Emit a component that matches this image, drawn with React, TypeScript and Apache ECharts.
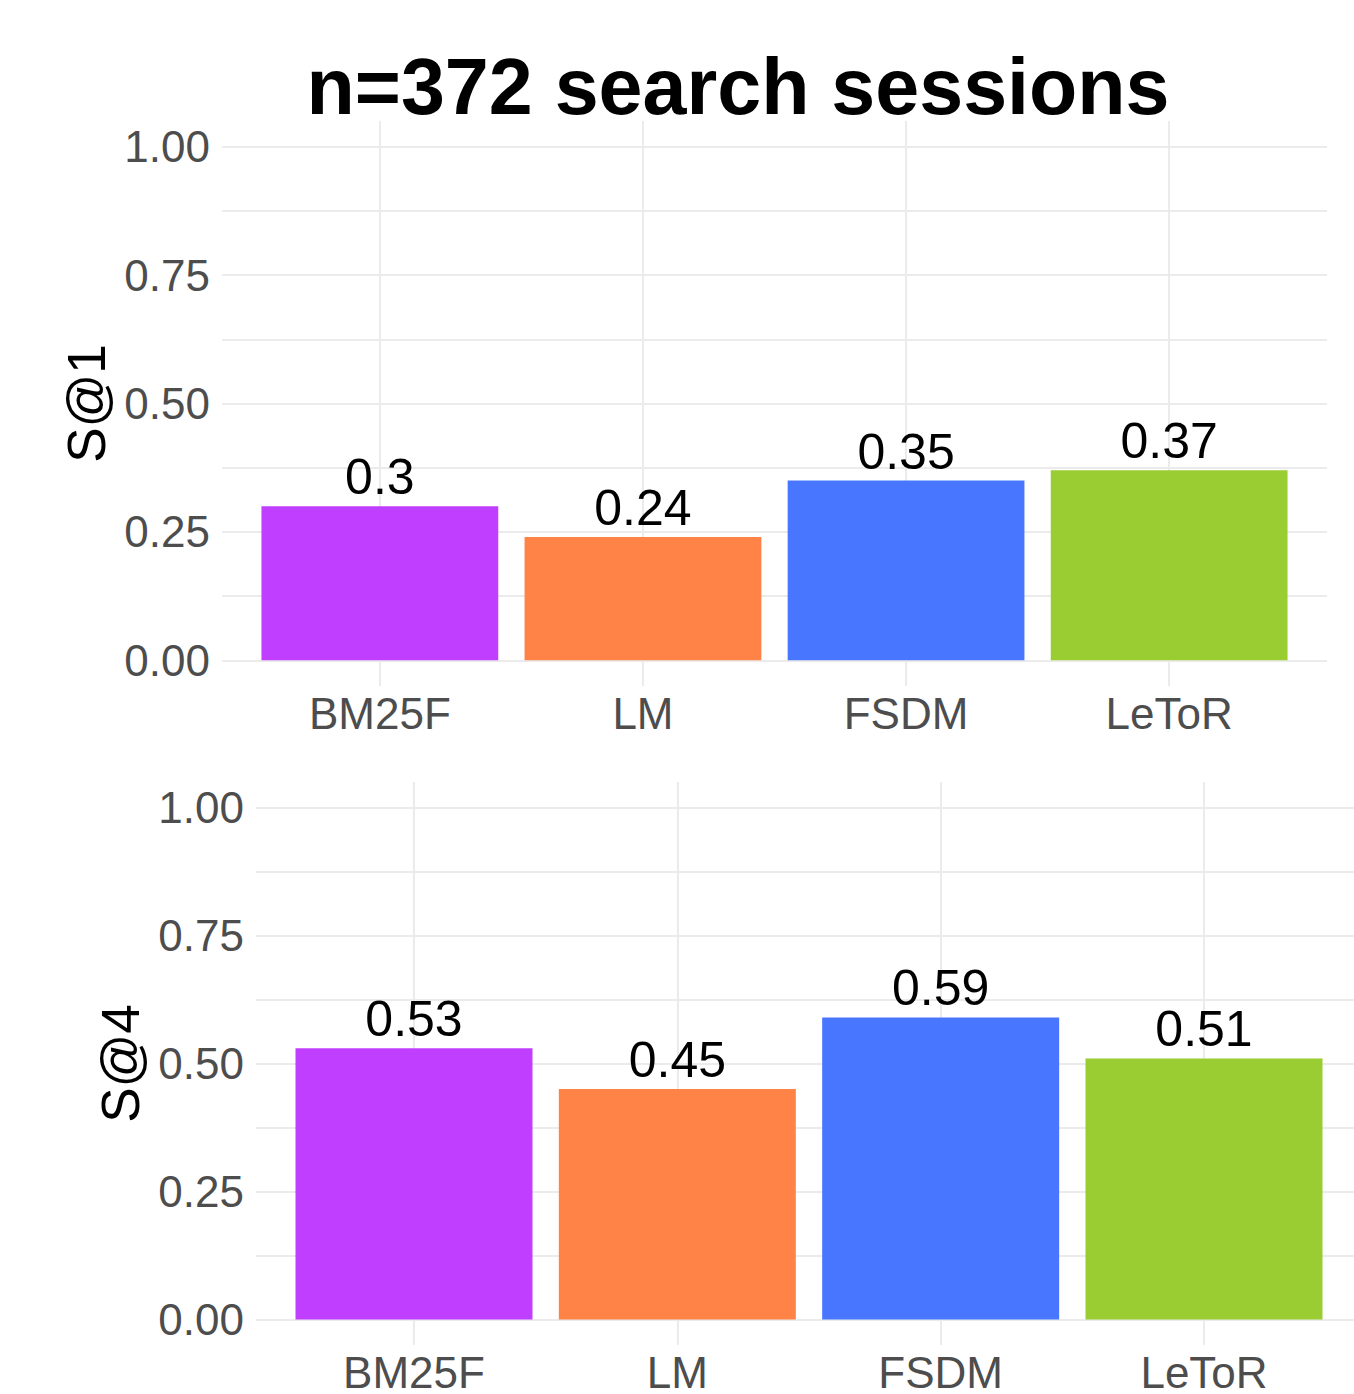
import React, { useEffect, useRef } from "react";
import * as echarts from "echarts";

const categories = ["BM25F", "LM", "FSDM", "LeToR"];
const s1Values = [0.3, 0.24, 0.35, 0.37];
const s4Values = [0.53, 0.45, 0.59, 0.51];
const barColors = ["#BF3EFF", "#FF8247", "#4876FF", "#9ACD32"];
const yTickLabels = [0, 0.25, 0.5, 0.75, 1];
const yGridValues = [0, 0.125, 0.25, 0.375, 0.5, 0.625, 0.75, 0.875, 1];
const xPositions = [1, 2, 3, 4];
const titleText = "n=372 search sessions";
const panelNames = ["S@1", "S@4"];

const FONT = "'Liberation Sans', Arial, Helvetica, sans-serif";
const GRID_COLOR = "#EBEBEB";
const TICK_COLOR = "#4D4D4D";

export default function App() {
  const ref = useRef<HTMLDivElement>(null);

  useEffect(() => {
    if (!ref.current) return;
    const chart = echarts.init(ref.current, undefined, { renderer: "svg" });

    const grids = [
      { left: 222, top: 121, width: 1105, height: 565 },
      { left: 256, top: 782, width: 1106, height: 566 },
    ];
    const nameGaps = [106, 108];
    const panelData = [s1Values, s4Values];

    const xAxes = grids.map((_, i) => ({
      type: "value",
      gridIndex: i,
      min: 0.4,
      max: 4.6,
      axisLine: { show: false },
      axisTick: { show: false, customValues: xPositions },
      axisLabel: {
        customValues: xPositions,
        formatter: (v: number) => categories[Math.round(v) - 1] ?? "",
        fontSize: 44,
        fontFamily: FONT,
        color: TICK_COLOR,
        margin: 5,
      },
      splitLine: { show: true, lineStyle: { color: GRID_COLOR, width: 2 } },
    }));

    const yAxes = grids.map((_, i) => ({
      type: "value",
      gridIndex: i,
      min: -0.05,
      max: 1.05,
      name: panelNames[i],
      nameLocation: "middle",
      nameRotate: 90,
      nameGap: nameGaps[i],
      nameTextStyle: { fontSize: 53, fontFamily: FONT, color: "#000000" },
      axisLine: { show: false },
      axisTick: { show: false, customValues: yGridValues },
      axisLabel: {
        customValues: yTickLabels,
        formatter: (v: number) => v.toFixed(2),
        fontSize: 44,
        fontFamily: FONT,
        color: TICK_COLOR,
        margin: 12,
      },
      splitLine: { show: true, lineStyle: { color: GRID_COLOR, width: 2 } },
    }));

    const series = panelData.map((vals, i) => ({
      type: "bar",
      xAxisIndex: i,
      yAxisIndex: i,
      barWidth: (grids[i].width / 4.2) * 0.9,
      data: vals.map((v, j) => ({
        value: [xPositions[j], v],
        itemStyle: { color: barColors[j] },
      })),
      label: {
        show: true,
        position: "top",
        distance: 4,
        fontSize: 50,
        fontFamily: FONT,
        color: "#000000",
        formatter: (p: any) => String(p.value[1]),
      },
    }));

    chart.setOption({
      animation: false,
      backgroundColor: "#FFFFFF",
      grid: grids,
      xAxis: xAxes,
      yAxis: yAxes,
      series,
      graphic: [
        {
          type: "text",
          x: 738,
          y: 86,
          style: {
            text: titleText,
            fontSize: 79,
            fontWeight: "bold",
            fontFamily: FONT,
            fill: "#000000",
            textAlign: "center",
            textVerticalAlign: "middle",
          },
        },
      ],
    });

    return () => chart.dispose();
  }, []);

  return (
    <div
      style={{
        position: "fixed",
        left: 0,
        top: 0,
        width: 1354,
        height: 1394,
        overflow: "hidden",
        background: "#FFFFFF",
      }}
    >
      <div ref={ref} style={{ width: 1400, height: 1394 }} />
    </div>
  );
}
